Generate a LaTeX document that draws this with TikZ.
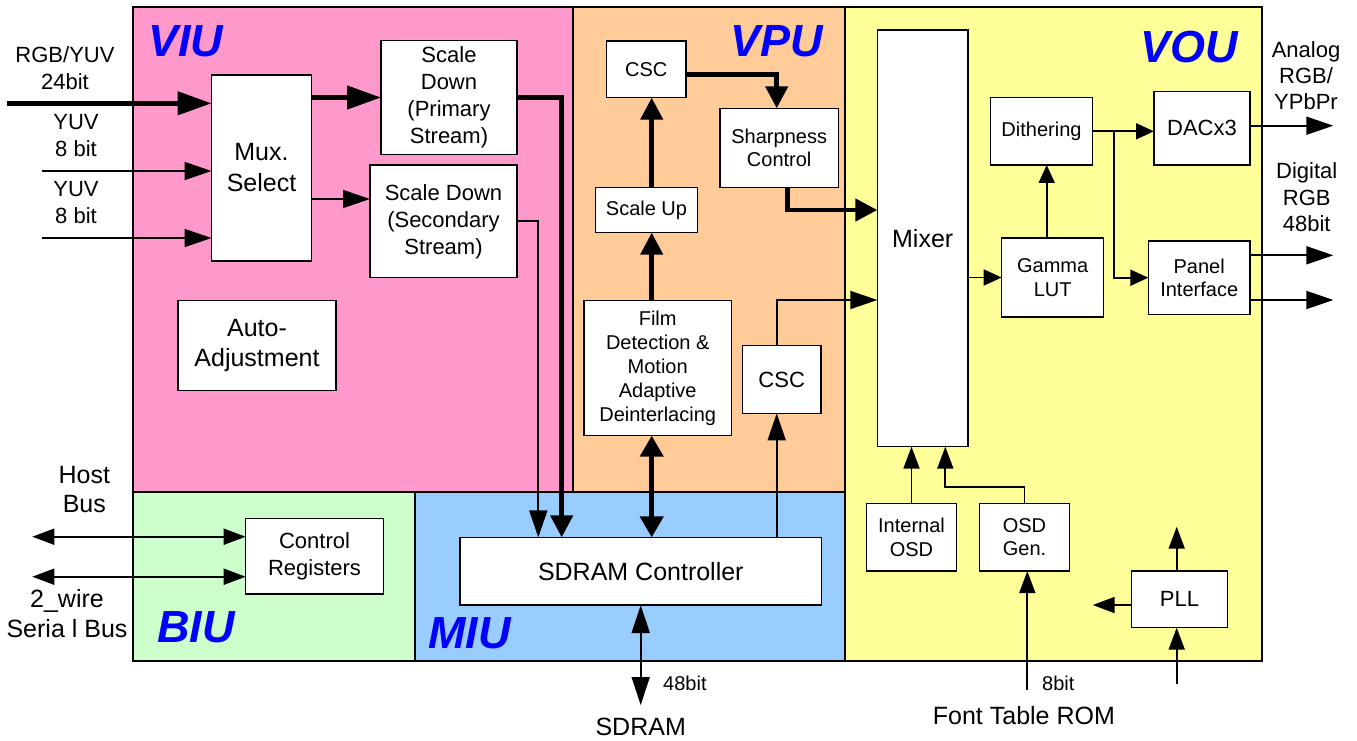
\documentclass[tikz,border=0pt]{standalone}
\usepackage{fontspec}
\setmainfont{Liberation Sans}
\usetikzlibrary{arrows.meta}
\definecolor{viuc}{HTML}{FF99CC}
\definecolor{vpuc}{HTML}{FFCC99}
\definecolor{vouc}{HTML}{FFFF99}
\definecolor{biuc}{HTML}{CCFFCC}
\definecolor{miuc}{HTML}{99CCFF}
\definecolor{lblc}{HTML}{0000FF}
\begin{document}
\begin{tikzpicture}[x=1pt,y=-1pt,
  box/.style={draw=black, line width=1.5pt, fill=white, inner sep=0pt, outer sep=0pt, align=center},
  fa/.style={font=\fontsize{20}{23.5}\selectfont},
  fb/.style={font=\fontsize{22}{27}\selectfont},
  fc/.style={font=\fontsize{25}{30}\selectfont},
  unitlbl/.style={text=lblc, font=\fontsize{45}{45}\selectfont\bfseries\itshape, anchor=base west, inner sep=0pt},
  txt/.style={inner sep=0pt, align=center},
  thn/.style={line width=1.8pt},
  thk/.style={line width=4.5pt},
  bigA/.style={-{Triangle[length=34pt,width=23pt]}},
  thkA/.style={-{Triangle[length=22pt,width=22pt]}},
  lngA/.style={-{Triangle[length=27pt,width=18pt]}},
  midA/.style={-{Triangle[length=22pt,width=16pt]}},
  smA/.style={-{Triangle[length=18pt,width=16pt]}},
  dblthk/.style={{Triangle[length=21pt,width=23pt]}-{Triangle[length=21pt,width=23pt]}},
  dbllng/.style={{Triangle[length=28pt,width=18pt]}-{Triangle[length=28pt,width=18pt]}},
  dblmid/.style={{Triangle[length=22pt,width=16pt]}-{Triangle[length=22pt,width=16pt]}}
]
\useasboundingbox (0,0) rectangle (1357,740);
\fill[white] (0,0) rectangle (1357,740);
% regions
\fill[viuc] (133,7) rectangle (573,492);
\fill[vpuc] (573,7) rectangle (845,492);
\fill[vouc] (845,7) rectangle (1262,661);
\fill[biuc] (133,492) rectangle (415,661);
\fill[miuc] (415,492) rectangle (845,661);
\draw[line width=2pt] (133,7) rectangle (1262,661);
\draw[line width=2pt] (573,7) -- (573,492);
\draw[line width=2pt] (845,7) -- (845,661);
\draw[line width=2pt] (133,492) -- (845,492);
\draw[line width=2pt] (415,492) -- (415,661);
\node[unitlbl] at (148,56) {VIU};
\node[unitlbl] at (730,56) {VPU};
\node[unitlbl] at (1140,62.5) {VOU};
\node[unitlbl] at (157,642.5) {BIU};
\node[unitlbl] at (428,648) {MIU};

% boxes
\node[box, font=\fontsize{25}{31}\selectfont, minimum width=100pt, minimum height=186pt] (mux) at (261.5,168) {Mux.\\Select};
\node[box, fb, minimum width=136pt, minimum height=113.6pt] (sdp) at (449,97.5) {Scale\\Down\\(Primary\\Stream)};
\node[box, fb, minimum width=147pt, minimum height=112.7pt] (sds) at (443.5,221.3) {Scale Down\\(Secondary\\Stream)};
\node[box, fc, minimum width=158pt, minimum height=90pt] (auto) at (257,345.7) {Auto-\\Adjustment};
\node[box, fa, minimum width=79.3pt, minimum height=56.7pt] (csca) at (646.3,69.3) {CSC};
\node[box, fa, minimum width=118.3pt, minimum height=79.4pt] (sharp) at (779.2,148) {Sharpness\\Control};
\node[box, fa, minimum width=101.6pt, minimum height=45pt] (scup) at (646.5,210.2) {Scale Up};
\node[box, font=\fontsize{20}{24}\selectfont, minimum width=147.3pt, minimum height=135pt] (film) at (657.7,368.2) {Film\\Detection \&\\Motion\\Adaptive\\Deinterlacing};
\node[box, fb, minimum width=78.7pt, minimum height=67.6pt] (cscb) at (781.7,379.5) {CSC};
\node[box, fc, minimum width=90.7pt, minimum height=416.7pt] (mixer) at (922.7,238.3) {Mixer};
\node[box, fa, minimum width=101.6pt, minimum height=67.3pt] (dith) at (1041.5,131.3) {Dithering};
\node[box, fa, minimum width=102pt, minimum height=79pt] (gamma) at (1052.7,277.5) {Gamma\\LUT};
\node[box, fb, minimum width=96pt, minimum height=73.3pt] (dac) at (1202,128.3) {DACx3};
\node[box, fa, minimum width=101.7pt, minimum height=73.3pt] (panel) at (1199.2,277.7) {Panel\\Interface};
\node[box, fa, minimum width=90.4pt, minimum height=67.7pt] (iosd) at (911.5,537.2) {Internal\\OSD};
\node[box, fa, minimum width=90.4pt, minimum height=67.7pt] (osdg) at (1024.5,537.2) {OSD\\Gen.};
\node[box, fb, minimum width=95.6pt, minimum height=56.7pt] (pll) at (1179.5,599.3) {PLL};
\node[box, fc, minimum width=361.7pt, minimum height=67.7pt] (sdram) at (640.8,571.2) {SDRAM Controller};
\node[box, fb, minimum width=137.6pt, minimum height=75.7pt] (ctrl) at (314.5,556.2) {Control\\Registers};

% free labels
\node[txt, font=\fontsize{22}{26.5}\selectfont] (lrgb) at (65,68) {RGB/YUV\\24bit};
\node[txt, font=\fontsize{22}{26.7}\selectfont] (lyuva) at (76,135.5) {YUV\\8 bit};
\node[txt, font=\fontsize{22}{26.7}\selectfont] (lyuvb) at (76,202.5) {YUV\\8 bit};
\node[txt, font=\fontsize{22}{26}\selectfont] (lana) at (1306,75.7) {Analog\\RGB/\\YPbPr};
\node[txt, font=\fontsize{22}{26.7}\selectfont] (ldig) at (1306.7,197.2) {Digital\\RGB\\48bit};
\node[txt, font=\fontsize{25}{29.4}\selectfont] (lhost) at (84.3,489.3) {Host\\Bus};
\node[txt, font=\fontsize{25}{30}\selectfont] (lwire) at (67,613.3) {2\_wire\\Seria l Bus};
\node[txt, fa, anchor=base west] (l48) at (663,690.7) {48bit};
\node[txt, fc, anchor=base] (lsdram) at (640.7,735) {SDRAM};
\node[txt, fa, anchor=base west] (l8) at (1042,690) {8bit};
\node[txt, fc, anchor=base west] (lfont) at (932.7,724) {Font Table ROM};

% free ends
\coordinate (in1) at (6.7,103.3);
\coordinate (in2) at (42,171);
\coordinate (in3) at (42,238);
\coordinate (oa) at (1333.3,125.7);
\coordinate (ob) at (1333.3,255.3);
\coordinate (oc) at (1333.3,300);
\coordinate (hb) at (32.3,536.7);
\coordinate (tw) at (32.3,576.7);
\coordinate (sdx) at (640.7,705);
\coordinate (rom) at (1027.3,690);
\coordinate (pllup) at (1176.7,526.7);
\coordinate (pllleft) at (1092.7,605);
\coordinate (pllin) at (1176.7,684.3);

% VIU connectors
\draw[thk,bigA] (in1) -- (in1 -| mux.west);
\draw[thn,lngA] (in2) -- (in2 -| mux.west);
\draw[thn,lngA] (in3) -- (in3 -| mux.west);
\draw[thk,bigA] (mux.east |- sdp.west) -- (sdp.west);
\draw[thn,lngA] (mux.east |- 0,199) -- (sds.west |- 0,199);
\draw[thk,thkA] (sdp.east) -| (561.7,0 |- sdram.north);
\draw[thn,lngA] (sds.east) -| (538.3,0 |- sdram.north);

% VPU connectors
\draw[thk,dblthk] (651.7,0 |- film.south) -- (651.7,0 |- sdram.north);
\draw[thk,thkA] (651.7,0 |- film.north) -- (651.7,0 |- scup.south);
\draw[thk,thkA] (651.7,0 |- scup.north) -- (651.7,0 |- csca.south);
\draw[thk,thkA] (csca.east |- 0,74.7) -| (776.7,0 |- sharp.north);
\draw[thk,thkA] (787.7,0 |- sharp.south) |- (mixer.west |- 0,210);
\draw[thn,lngA] (776.7,0 |- sdram.north) -- (776.7,0 |- cscb.south);
\draw[thn,lngA] (776.7,0 |- cscb.north) |- (mixer.west |- 0,300);

% VOU connectors
\draw[thn,smA] (mixer.east |- gamma.west) -- (gamma.west);
\draw[thn,smA] (1046.7,0 |- gamma.north) -- (1046.7,0 |- dith.south);
\draw[thn,smA] (dith.east) -- (dac.west |- dith.east);
\draw[thn,smA] (1114.3,0 |- dith.east) |- (panel.west);
\draw[thn,lngA] (dac.east |- oa) -- (oa);
\draw[thn,lngA] (panel.east |- ob) -- (ob);
\draw[thn,lngA] (panel.east |- oc) -- (oc);
\draw[thn,midA] (iosd.north) -- (iosd.north |- mixer.south);
\draw[thn,midA] (osdg.north) |- (945.3,486.7) -- (945.3,0 |- mixer.south);
\draw[thn,midA] (rom) -- (rom |- osdg.south);
\draw[thn,midA] (pllup |- pll.north) -- (pllup);
\draw[thn,midA] (pll.west |- pllleft) -- (pllleft);
\draw[thn,midA] (pllin) -- (pllin |- pll.south);

% MIU / BIU connectors
\draw[thn,dbllng] (sdx |- sdram.south) -- (sdx);
\draw[thn,dblmid] (hb) -- (hb -| ctrl.west);
\draw[thn,dblmid] (tw) -- (tw -| ctrl.west);
\end{tikzpicture}
\end{document}
